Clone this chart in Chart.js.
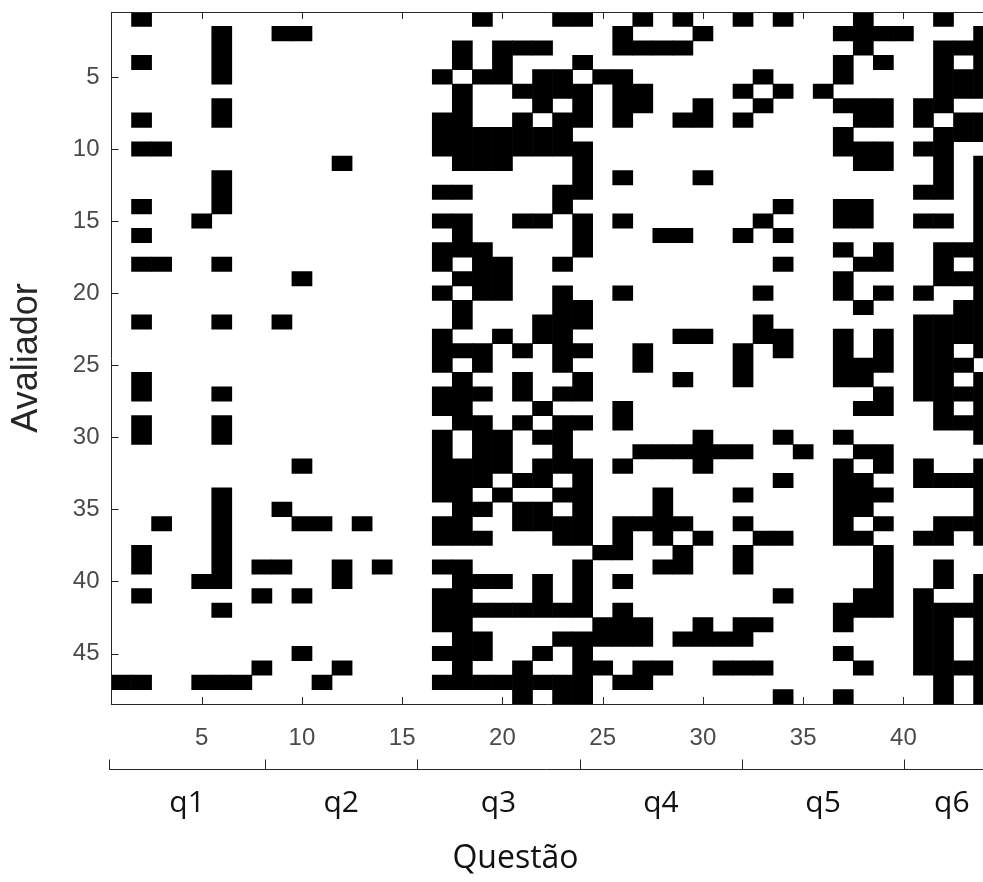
<!DOCTYPE html>
<html>
<head>
<meta charset="utf-8">
<script src="https://cdn.jsdelivr.net/npm/chart.js@4/dist/chart.umd.min.js"></script>
<style>
  html, body { margin: 0; padding: 0; background: #fff; }
  canvas { display: block; }
</style>
</head>
<body>
<canvas id="matriz" width="983" height="882"></canvas>
<script>
// uma linha por avaliador, uma coluna por item ('#' = marcado); espaços só para leitura
const respostas = [
  '.#........ ........#. ..##..#.#. .#.#...#.. .#..',
  '.....#..## .......... .....#...# ......#### ...#',
  '.....#.... .......#.# ##...####. .......#.. .###',
  '.#...#.... .......#.# ...#...... ......#.#. .#.#',
  '.....#.... ......#.## .##.##.... ..#...#... .###',
  '.......... .......#.. ####.##... .#.#.#.... .###',
  '.....#.... .......#.. .#.#.##..# ..#...###. ##..',
  '.#...#.... ......##.. #.##.#..## .#.....##. #.##',
  '.......... ......#### ###....... ......#... .###',
  '.##....... ......#### ####...... ......###. ##..',
  '.......... .#.....### ...#...... .......##. .#.#',
  '.....#.... .......... ...#.#...# .......... .#.#',
  '.....#.... ......##.. ..##...... .......... ##.#',
  '.#...#.... .......... ..#....... ...#..##.. ...#',
  '....#..... ......##.. ##.#.#.... ..#...##.. ##.#',
  '.#........ .......#.. ...#...##. .#.#...... ...#',
  '.......... ......###. ...#...... ......#.#. .###',
  '.##..#.... ......#.## ..#....... ...#...##. .#.#',
  '.........# .......### .......... ......#... .###',
  '.......... ......#.## ..#..#.... ..#...#.#. #..#',
  '.......... .......#.. ..##...... .......#.. ..##',
  '.#...#..#. .......#.. .###...... ..#....... ####',
  '.......... ......#..# .##.....## ..##..#.#. ####',
  '.......... ......###. #.##..#... .#.#..#.#. ##.#',
  '.......... ......#.#. ..#...#... .#....###. ###.',
  '.#........ .......#.. #..#....#. .#....##.. ##.#',
  '.#...#.... ......###. #.##...... ........#. ####',
  '.......... ......##.. .#...#.... .......##. .#.#',
  '.#...#.... .......##. #.##.#.... .......... .###',
  '.#...#.... ......#.## .##......# ...#..#... ...#',
  '.......... ......#.## ..#...#### ##..#..##. ....',
  '.........# ......#### .###.#...# ......#.#. #..#',
  '.......... ......###. ##.#...... ...#..##.. ####',
  '.....#.... ......##.# ..##...#.. .#....###. ...#',
  '.....#..#. .......##. ##.#...#.. ......##.. ...#',
  '..#..#...# #.#...##.. ####.####. .#....#.#. .###',
  '.....#.... ......###. ..##.#.#.# ..##..##.. ##.#',
  '.#...#.... .......... ....##..#. .#......#. ....',
  '.#...#.##. .#.#..##.. ...#...##. .#......#. .#..',
  '....##.... .#.....### .#.#.#.... ........#. .#.#',
  '.#.....#.# ......##.. .#.#...... ...#...##. #..#',
  '.....#.... ......#### ####.#.... ......###. ####',
  '.......... ......##.. ....###..# .##...#... ##.#',
  '.......... .......##. ..#####.## ##........ ##.#',
  '.........# ......###. .#.#...... ......#... ##.#',
  '.......#.. .#.....#.. #..##.##.. ###....#.. ####',
  '##..###... #.....#### ####.##... .......... .#.#',
  '.......... .......... #.##...... ...#..#... .#.#'
].map(linha => linha.replace(/ /g, ''));

const ticksItem = [5, 10, 15, 20, 25, 30, 35, 40];
const ticksAvaliador = [5, 10, 15, 20, 25, 30, 35, 40, 45];
const questoes = ['q1', 'q2', 'q3', 'q4', 'q5', 'q6'];
// limites de cada questão na escala dos itens
const limitesQuestoes = [0.38, 8.16, 15.75, 23.85, 31.96, 40.03, 44.8];
const itemMax = 43.97; // a figura termina cortada na coluna 44

// junta células marcadas consecutivas de cada coluna numa barra
const barras = [];
const nCols = respostas[0].length;
for (let c = 0; c < nCols; c++) {
    let r = 0;
    while (r < respostas.length) {
        if (respostas[r][c] === '#') {
            const ini = r;
            while (r + 1 < respostas.length && respostas[r + 1][c] === '#') r++;
            barras.push({ x: c + 1, y: [ini + 0.5, r + 1.5] });
        }
        r++;
    }
}

const corEixo = '#262626';
const fonteTick = { family: '"Liberation Sans", Arial, sans-serif', size: 24 };

const moldura = {
    id: 'moldura',
    afterDatasetsDraw(chart) {
        const { ctx, chartArea: a, scales: { x, y } } = chart;
        ctx.save();
        ctx.strokeStyle = corEixo;
        ctx.lineWidth = 1;
        ctx.beginPath();
        ctx.moveTo(a.left, a.top + 0.5);
        ctx.lineTo(a.right, a.top + 0.5);
        ctx.moveTo(a.left, a.bottom + 0.5);
        ctx.lineTo(a.right, a.bottom + 0.5);
        ctx.moveTo(a.left, a.top);
        ctx.lineTo(a.left, a.bottom + 1);
        ticksItem.forEach(v => {
            const px = Math.round(x.getPixelForValue(v)) + 0.5;
            ctx.moveTo(px, a.bottom);
            ctx.lineTo(px, a.bottom - 7);
            ctx.moveTo(px, a.top);
            ctx.lineTo(px, a.top + 7);
        });
        ticksAvaliador.forEach(v => {
            const py = Math.round(y.getPixelForValue(v)) + 0.5;
            ctx.moveTo(a.left, py);
            ctx.lineTo(a.left + 7, py);
        });
        ctx.stroke();
        ctx.restore();
    }
};

const eixoQuestoes = {
    id: 'eixoQuestoes',
    afterDraw(chart) {
        const { ctx, chartArea: a, scales: { x } } = chart;
        const yLinha = 769.5;
        const px = limitesQuestoes.map(v => x.getPixelForValue(v));
        ctx.save();
        ctx.strokeStyle = corEixo;
        ctx.lineWidth = 1;
        ctx.beginPath();
        ctx.moveTo(px[0], yLinha);
        ctx.lineTo(px[px.length - 1], yLinha);
        px.slice(0, -1).forEach(p => {
            const xp = Math.round(p) + 0.5;
            ctx.moveTo(xp, yLinha);
            ctx.lineTo(xp, yLinha - 10);
        });
        ctx.stroke();
        ctx.fillStyle = '#111';
        ctx.font = '30px "Open Sans", sans-serif';
        ctx.textAlign = 'center';
        ctx.textBaseline = 'alphabetic';
        questoes.forEach((q, i) => {
            const meio = (limitesQuestoes[i] + limitesQuestoes[i + 1]) / 2;
            ctx.fillText(q, x.getPixelForValue(meio), 812);
        });
        // título do eixo, deslocado à esquerda como no original
        ctx.font = '32px "Open Sans", sans-serif';
        ctx.fillText('Questão', a.left + 404, 868);
        ctx.restore();
    }
};

new Chart(document.getElementById('matriz').getContext('2d'), {
    type: 'bar',
    data: {
        datasets: [{
            data: barras,
            backgroundColor: '#000',
            borderWidth: 0,
            barPercentage: 1,
            categoryPercentage: 1,
        }]
    },
    options: {
        responsive: false,
        animation: false,
        layout: { autoPadding: false, padding: { top: 12, left: 0, right: 0, bottom: 0 } },
        plugins: {
            legend: { display: false },
            tooltip: { enabled: false },
        },
        scales: {
            x: {
                type: 'linear',
                offset: false,
                min: 0.5,
                max: itemMax,
                grid: { display: false, drawTicks: false },
                border: { display: false },
                afterBuildTicks: s => { s.ticks = ticksItem.map(v => ({ value: v })); },
                ticks: { color: '#4a4a4a', font: fonteTick, padding: 20, maxRotation: 0 },
                afterFit: s => { s.height = 178; s.paddingLeft = 0; s.paddingRight = 0; },
            },
            y: {
                type: 'linear',
                reverse: true,
                min: 0.5,
                max: 48.5,
                grid: { display: false, drawTicks: false },
                border: { display: false },
                afterBuildTicks: s => { s.ticks = ticksAvaliador.map(v => ({ value: v })); },
                ticks: { color: '#4a4a4a', font: fonteTick, padding: 12 },
                title: {
                    display: true,
                    text: 'Avaliador',
                    color: '#262626',
                    font: { family: '"Liberation Sans", Arial, sans-serif', size: 36, lineHeight: 1 },
                    padding: { top: 9, bottom: 0 },
                },
                afterFit: s => { s.width = 111.5; s.paddingTop = 0; s.paddingBottom = 0; },
            }
        }
    },
    plugins: [moldura, eixoQuestoes]
});
</script>
</body>
</html>
